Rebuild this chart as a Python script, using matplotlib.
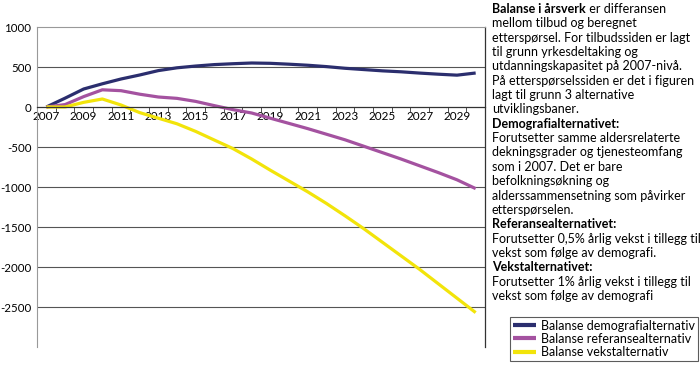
import matplotlib
matplotlib.use("Agg")
import matplotlib.pyplot as plt
from matplotlib.ticker import FixedLocator

plt.rcParams['font.family'] = ['Lato', 'DejaVu Sans']

years = list(range(2007, 2031))
demografi = [0, 110, 225, 290, 350, 400, 455, 490, 512, 530, 541, 550, 546, 535, 522, 505,
             484, 468, 452, 440, 424, 410, 398, 425]
referanse = [0, 30, 130, 215, 204, 160, 125, 108, 70, 17, -33, -75, -140, -205, -270, -340,
             -410, -490, -570, -650, -735, -820, -910, -1020]
vekst = [0, 0, 58, 100, 25, -70, -140, -210, -305, -413, -520, -650, -790, -925, -1060, -1205,
         -1360, -1520, -1690, -1860, -2030, -2210, -2390, -2570]

labels = ["Balanse demografialternativ", "Balanse referansealternativ", "Balanse vekstalternativ"]
colors = ["#2b2e6e", "#a452a0", "#f2e40a"]

note_lines = [
    ("Balanse i årsverk", " er differansen"),
    ("", "mellom tilbud og beregnet"),
    ("", "etterspørsel. For tilbudssiden er lagt"),
    ("", "til grunn yrkesdeltaking og"),
    ("", "utdanningskapasitet på 2007-nivå."),
    ("", "På etterspørselssiden er det i figuren"),
    ("", "lagt til grunn 3 alternative"),
    ("", "utviklingsbaner."),
    ("Demografialternativet:", ""),
    ("", "Forutsetter samme aldersrelaterte"),
    ("", "dekningsgrader og tjenesteomfang"),
    ("", "som i 2007. Det er bare"),
    ("", "befolkningsøkning og"),
    ("", "alderssammensetning som påvirker"),
    ("", "etterspørselen."),
    ("Referansealternativet:", ""),
    ("", "Forutsetter 0,5% årlig vekst i tillegg til"),
    ("", "vekst som følge av demografi."),
    ("Vekstalternativet:", ""),
    ("", "Forutsetter 1% årlig vekst i tillegg til"),
    ("", "vekst som følge av demografi"),
]

W, H = 700, 365
fig = plt.figure(figsize=(7, 3.65), dpi=100)
ax = fig.add_axes([37 / W, 1 - 347 / H, 448 / W, 320 / H])

for vals, lab, c in zip([demografi, referanse, vekst], labels, colors):
    ax.plot(years, vals, color=c, lw=2.3, label=lab, solid_capstyle='butt')

ax.set_xlim(2006.5, 2030.5)
ax.set_ylim(-3000, 1000)
ax.set_yticks(range(-3000, 1001, 500))
ax.set_yticklabels(["" if v == -3000 else str(v) for v in range(-3000, 1001, 500)])
for v in range(-2500, 1000, 500):
    if v != 0:
        ax.axhline(v, color="#555555", lw=0.8, zorder=0)

ax.spines['bottom'].set_position(('data', 0))
ax.spines['bottom'].set_color("#333333")
ax.spines['bottom'].set_linewidth(0.9)
ax.spines['top'].set_color("#999999")
ax.spines['left'].set_color("#999999")
ax.spines['right'].set_color("#333333")
ax.spines['right'].set_linewidth(0.9)

ax.set_xticks(range(2007, 2031, 2))
ax.set_xticklabels([str(y) for y in range(2007, 2031, 2)])
ax.xaxis.set_minor_locator(FixedLocator([y + 0.5 for y in range(2006, 2030)]))
ax.tick_params(axis='x', which='major', length=0, pad=3, labelsize=8.5)
ax.tick_params(axis='x', which='minor', length=3.5, direction='out', color="#333333")
ax.tick_params(axis='y', length=0, pad=4, labelsize=8.3)

leg = fig.legend(loc='upper left', bbox_to_anchor=(510 / W, 1 - 317 / H), frameon=True,
                 fontsize=9, handlelength=1.9, handletextpad=0.4, labelspacing=0.1,
                 borderpad=0.2, borderaxespad=0, fancybox=False)
leg.get_frame().set_edgecolor("#333333")
leg.get_frame().set_linewidth(0.8)
for ln in leg.get_lines():
    ln.set_linewidth(3)

fig.canvas.draw()
r = fig.canvas.get_renderer()
x0 = 492 / W
for i, (b, n) in enumerate(note_lines):
    y = 1 - (3 + i * 14.35) / H
    xx = x0
    if b:
        t = fig.text(xx, y, b, fontsize=9, fontweight='bold', va='top', ha='left')
        bb = t.get_window_extent(r)
        xx = bb.x1 / W
    if n:
        fig.text(xx, y, n, fontsize=9, va='top', ha='left')

fig.savefig("out.png", dpi=100)
